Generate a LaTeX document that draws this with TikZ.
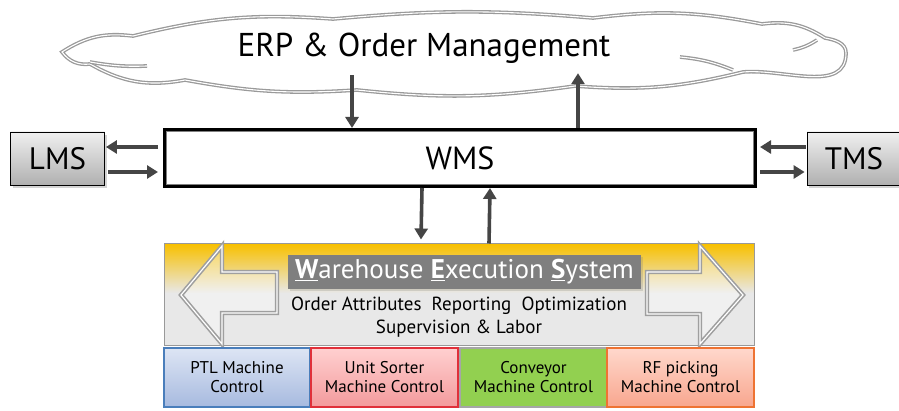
\documentclass[tikz,border=0pt]{standalone}
\usepackage{fontspec}
\setmainfont{PT Sans}
\usetikzlibrary{arrows.meta,shadows,calc}
\definecolor{arrgray}{HTML}{454545}
\definecolor{cloudgray}{HTML}{9A9A9A}
\definecolor{wesorange}{HTML}{F8C000}
\definecolor{wesgray}{HTML}{E8E8E8}
\definecolor{titlegray}{HTML}{7F7F7F}
\definecolor{ptltop}{HTML}{DDE5F4}
\definecolor{ptlbot}{HTML}{A7BADF}
\definecolor{ptlline}{HTML}{4A7EBB}
\definecolor{ustop}{HTML}{FFD0D0}
\definecolor{usbot}{HTML}{F39A9C}
\definecolor{usline}{HTML}{E0303A}
\definecolor{convfill}{HTML}{92D050}
\definecolor{rftop}{HTML}{FFD8CC}
\definecolor{rfbot}{HTML}{F8A68E}
\definecolor{rfline}{HTML}{EE7333}
\pgfdeclareverticalshading{wesshade}{100bp}{color(0bp)=(wesgray); color(25bp)=(wesgray); color(51bp)=(wesgray); color(75bp)=(wesorange); color(100bp)=(wesorange)}
\tikzset{
  arr/.style={draw=arrgray, line width=3.6pt, -{Triangle[length=11pt,width=13pt]}},
  cloudline/.style={draw=cloudgray, double=white, line width=1.3pt, double distance=1.1pt},
  sidebox/.style={draw=black, line width=0.8pt, top color=gray!12, bottom color=gray!62, minimum width=94pt, minimum height=53pt, font=\fontsize{31}{31}\selectfont, drop shadow={opacity=0.35, shadow xshift=2pt, shadow yshift=-3pt}},
  hollowarrow/.style={draw=gray!75, double=white, line width=1.6pt, double distance=1.2pt, fill=white, fill opacity=0.35},
  mc/.style={minimum height=59pt, align=center, font=\fontsize{17}{19}\selectfont, line width=1.1pt, inner sep=0pt},
}
\begin{document}
\begin{tikzpicture}[x=1pt,y=1pt]
\useasboundingbox (0,0) rectangle (899,-411);
% cloud
\draw[cloudline] (62,-52) to[bend left=20] (133,-36) to[bend left=9] (333,-19) to[bend left=5] (593,-18) to[bend left=9] (762,-24) to[bend left=20] (825,-38)
  to[out=-10,in=90] (846,-53) to[out=-90,in=5] (743,-72)
  to[bend left=9] (575,-86) to[bend left=7] (357,-90) to[bend left=7] (185,-80) to[bend left=20] (90,-64) to[bend left=30] cycle;
\draw[cloudline] (90,-62) to[bend right=6] (147,-66);
\draw[cloudline] (680,-57) to[bend left=8] (733,-70);
\draw[cloudline] (793,-50) to[bend right=10] (817,-40);
\node[minimum width=600pt, minimum height=54pt, inner sep=0pt, font=\fontsize{33}{33}\selectfont] (erp) at (424,-48) {ERP \& Order Management};
% WMS
\node[draw=black, line width=3pt, minimum width=591pt, minimum height=57pt, inner sep=0pt, font=\fontsize{32}{32}\selectfont] (wms) at (460,-158) {WMS};
\draw[gray, line width=0.7pt] ($(wms.south west)+(3.2,3.2)$) rectangle ($(wms.north east)+(-3.2,-3.2)$);
% side boxes
\node[sidebox] (lms) at (57.5,-158.5) {LMS};
\node[sidebox] (tms) at (854,-158.5) {TMS};
% arrows side
\draw[arr] ([yshift=11pt,xshift=-5pt]wms.west) -- ([yshift=11pt,xshift=1pt]wms.west -| lms.east);
\draw[arr] ([yshift=-14pt,xshift=3pt]wms.west -| lms.east) -- ([yshift=-14pt,xshift=-5pt]wms.west);
\draw[arr] ([yshift=11pt,xshift=-1pt]wms.east -| tms.west) -- ([yshift=11pt,xshift=3pt]wms.east);
\draw[arr] ([yshift=-14pt,xshift=3pt]wms.east) -- ([yshift=-14pt,xshift=-2pt]wms.east -| tms.west);
% ERP arrows
\draw[arr] ([xshift=-108pt]erp.south -| wms.north) -- ([xshift=-108pt]wms.north);
\draw[arr] ([xshift=118pt]wms.north) -- ([xshift=118pt,yshift=2pt]erp.south -| wms.north);
% WES
\node[draw=gray!80, line width=1pt, shading=wesshade, minimum width=590pt, minimum height=102pt, inner sep=0pt] (wes) at (459,-295) {};
\draw[arr] ([xshift=-38pt]wms.south) -- ([xshift=-38pt,yshift=4pt]wes.north);
\draw[arr] ([xshift=30pt]wes.north) -- ([xshift=30pt]wms.south);
% hollow arrows
\draw[hollowarrow] (181,-295) -- (222,-246) -- (222,-272) -- (277,-272) -- (277,-313) -- (222,-313) -- (222,-344) -- cycle;
\draw[hollowarrow] (743,-295) -- (700,-246) -- (700,-272) -- (647,-272) -- (647,-314) -- (700,-314) -- (700,-344) -- cycle;
% title
\node[fill=titlegray, text=white, minimum width=353pt, minimum height=34pt, inner sep=0pt, font=\fontsize{27}{27}\selectfont, drop shadow={opacity=0.25, shadow xshift=2pt, shadow yshift=-2pt}] (title) at (464.5,-272) {\underline{\textbf{W}}arehouse \underline{\textbf{E}}xecution \underline{\textbf{S}}ystem};
\node[align=center, font=\fontsize{19}{23}\selectfont, inner sep=0pt] (feat) at (459,-317) {Order Attributes\ \ Reporting\ \ Optimization\\Supervision \& Labor};
% machine controls
\node[mc, draw=ptlline, top color=ptltop, bottom color=ptlbot, minimum width=146pt] (ptl) at (237,-377.5) {PTL Machine\\Control};
\node[mc, draw=usline, top color=ustop, bottom color=usbot, minimum width=147pt] (us) at (384.5,-377.5) {Unit Sorter\\Machine Control};
\node[mc, draw=gray!70, fill=convfill, minimum width=147pt] (conv) at (533.5,-377.5) {Conveyor\\Machine Control};
\node[mc, draw=rfline, top color=rftop, bottom color=rfbot, minimum width=147pt] (rf) at (680.5,-377.5) {RF picking\\Machine Control};
\end{tikzpicture}
\end{document}
